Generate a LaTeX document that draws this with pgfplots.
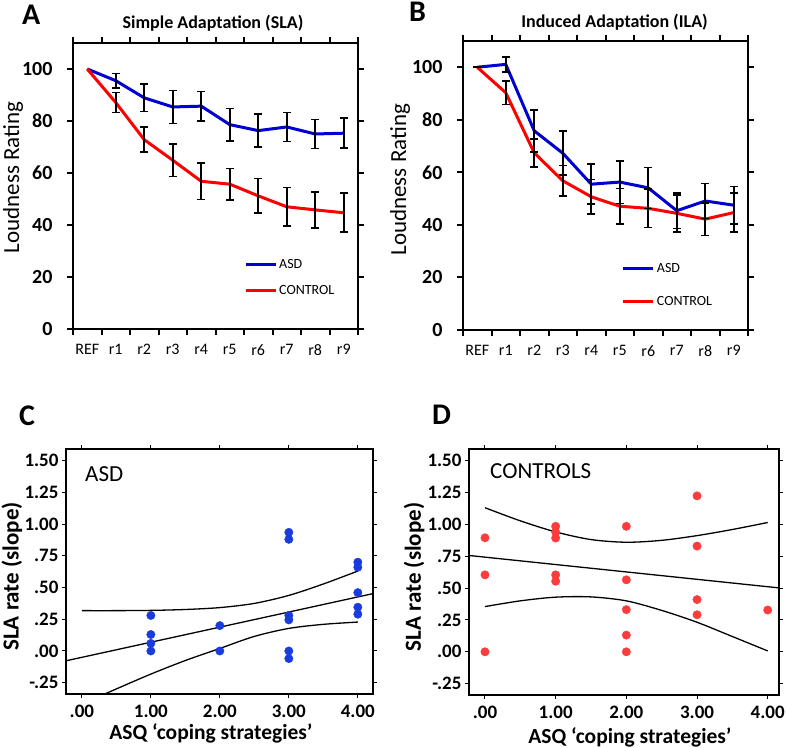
\documentclass[border=0pt]{standalone}
\usepackage{fontspec}
\setmainfont{Carlito}
\usepackage{pgfplots}
\pgfplotsset{compat=1.18}
\definecolor{lblue}{RGB}{0,0,210}
\definecolor{lred}{RGB}{255,0,0}
\definecolor{dblue}{RGB}{25,60,220}
\definecolor{dred}{RGB}{250,60,60}
\newcommand{\fs}[1]{\fontsize{#1bp}{#1bp}\selectfont}
\pgfplotsset{
  topaxis/.style={
    scale only axis, width=285bp,
    xmin=-0.5, xmax=9.5, ymin=0, ymax=110,
    ytick={0,20,...,100},
    xtick={-0.5,0.5,...,9.5},
    xticklabels={REF,r1,r2,r3,r4,r5,r6,r7,r8,r9,{}},
    xticklabel style={font=\fs{16}, xshift=14.25bp, yshift=-6bp},
    yticklabel style={font=\fs{20}\bfseries, xshift=-11bp},
    /pgf/number format/assume math mode=true,
    tick align=outside, major tick length=6bp,
    tick style={black, line width=2bp},
    axis line style={line width=2.8bp},
    ylabel={Loudness Rating},
    ylabel style={font=\fs{23}, anchor=center},
    legend style={draw=none, fill=none, font=\fs{14}, row sep=11bp, anchor=north west, inner sep=0pt, legend cell align=left},
    legend image code/.code={\draw[#1, line width=3bp] (0bp,0bp) -- (30bp,0bp);},
  },
  errs/.style={draw=none, mark=none, forget plot,
    error bars/.cd, y dir=both, y explicit,
    error bar style={draw=black, solid, line width=1.6bp},
    error mark options={draw=black, rotate=90, mark size=4bp, line width=1.6bp}},
  botaxis/.style={
    scale only axis,
    ymin=-0.339, ymax=1.592,
    ytick={-0.25,0,0.25,0.5,0.75,1,1.25,1.5},
    yticklabels={-.25,.00,.25,.50,.75,1.00,1.25,1.50},
    xtick={0,1,2,3,4},
    xticklabels={.00,1.00,2.00,3.00,4.00},
    ticklabel style={font=\fs{19}\bfseries},
    xticklabel style={yshift=-4bp},
    /pgf/number format/assume math mode=true,
    tick align=outside, major tick length=4bp,
    tick style={black, line width=1bp},
    axis line style={line width=1.3bp},
    xlabel={ASQ ‘coping strategies’},
    ylabel={SLA rate (slope)},
    xlabel style={font=\fs{21.5}\bfseries, anchor=center},
    ylabel style={font=\fs{23}\bfseries, anchor=center},
  },
}
\begin{document}
\begin{tikzpicture}[x=1bp,y=1bp]
\useasboundingbox (0,0) rectangle (787,748);
% ---------------- A ----------------
\begin{axis}[topaxis, at={(73bp,419bp)}, anchor=south west, height=286bp,
  ylabel style={at={(axis description cs:-0.2105,0.53)}},
  legend style={at={(axis description cs:0.60,0.25)}}]
\addplot[lblue, line width=3bp, mark=none] coordinates {(0,100) (1,95.5) (2,88.9) (3,85.4) (4,85.7) (5,78.6) (6,76.3) (7,77.7) (8,75.0) (9,75.3)};
\addlegendentry{ASD}
\addplot[lred, line width=3bp, mark=none] coordinates {(0,100) (1,87.1) (2,72.8) (3,64.9) (4,56.8) (5,55.7) (6,51.2) (7,47.0) (8,45.8) (9,44.7)};
\addlegendentry{CONTROL}
\addplot[errs] coordinates {(1,95.5) +- (0,2.8) (2,88.9) +- (0,5.3) (3,85.4) +- (0,6.3) (4,85.7) +- (0,5.6) (5,78.6) +- (0,6.2) (6,76.3) +- (0,6.3) (7,77.7) +- (0,5.6) (8,75.0) +- (0,5.6) (9,75.3) +- (0,5.8)};
\addplot[errs] coordinates {(1,87.1) +- (0,3.8) (2,72.8) +- (0,4.8) (3,64.9) +- (0,6.3) (4,56.8) +- (0,7.0) (5,55.7) +- (0,6.0) (6,51.2) +- (0,6.7) (7,47.0) +- (0,7.4) (8,45.8) +- (0,7.0) (9,44.7) +- (0,7.5)};
\end{axis}
% ---------------- B ----------------
\begin{axis}[topaxis, at={(463bp,418bp)}, anchor=south west, height=289bp,
  ylabel style={at={(axis description cs:-0.221,0.52)}},
  legend style={at={(axis description cs:0.557,0.238)}, row sep=18bp}]
\addplot[lblue, line width=3bp, mark=none] coordinates {(0,100) (1,101.1) (2,75.8) (3,67.3) (4,55.5) (5,56.3) (6,54.1) (7,45.4) (8,49.1) (9,47.5)};
\addlegendentry{ASD}
\addplot[lred, line width=3bp, mark=none] coordinates {(0,100) (1,90.3) (2,67.4) (3,56.8) (4,50.7) (5,47.1) (6,46.3) (7,44.4) (8,42.2) (9,44.7)};
\addlegendentry{CONTROL}
\addplot[errs] coordinates {(0,100) +- (0,0) (1,101.1) +- (0,2.9) (2,75.8) +- (0,8.0) (3,67.3) +- (0,8.4) (4,55.5) +- (0,7.6) (5,56.3) +- (0,8.1) (6,54.1) +- (0,7.8) (7,45.4) +- (0,6.8) (8,49.1) +- (0,6.7) (9,47.5) +- (0,7.1)};
\addplot[errs] coordinates {(1,90.3) +- (0,4.5) (2,67.4) +- (0,5.3) (3,56.8) +- (0,5.8) (4,50.7) +- (0,6.6) (5,47.1) +- (0,6.8) (6,46.3) +- (0,7.3) (7,44.4) +- (0,7.0) (8,42.2) +- (0,6.2) (9,44.7) +- (0,7.4)};
\end{axis}
% ---------------- C ----------------
\begin{axis}[botaxis, at={(66bp,54bp)}, anchor=south west, width=307bp, height=245bp,
  xmin=-0.23, xmax=4.22,
  xlabel style={at={(axis description cs:0.472,-0.159)}},
  ylabel style={at={(axis description cs:-0.176,0.48)}}]
\addplot[only marks, mark=*, mark size=4.2bp, dblue, mark options={draw=dblue, fill=dblue}] coordinates {
(1,0.28)(1,0.13)(1,0.06)(1,0.0)(2,0.20)(2,0.0)(3,0.935)(3,0.88)(3,0.28)(3,0.245)(3,0.0)(3,-0.06)(4,0.70)(4,0.66)(4,0.46)(4,0.345)(4,0.29)};
\addplot[black, line width=1.3bp, mark=none] coordinates {(-0.3,-0.0857) (4.3,0.4617)};
\addplot[black, line width=1.3bp, smooth, mark=none] coordinates {(0,0.318)(0.5,0.318)(1,0.320)(1.5,0.327)(2,0.342)(2.5,0.375)(3,0.438)(3.5,0.528)(4,0.630)};
\addplot[black, line width=1.3bp, smooth, mark=none] coordinates {(0,-0.418)(0.5,-0.299)(1,-0.182)(1.5,-0.075)(2,0.020)(2.5,0.115)(3,0.178)(3.5,0.210)(4,0.228)};
\end{axis}
% ---------------- D ----------------
\begin{axis}[botaxis, at={(469bp,53bp)}, anchor=south west, width=310bp, height=246bp,
  xmin=-0.226, xmax=4.16,
  xlabel style={at={(axis description cs:0.519,-0.171)}},
  ylabel style={at={(axis description cs:-0.177,0.48)}}]
\addplot[only marks, mark=*, mark size=4.2bp, dred, mark options={draw=dred, fill=dred}] coordinates {
(0,0.895)(0,0.604)(0,0.0)(1,0.985)(1,0.94)(1,0.893)(1,0.604)(1,0.554)(2,0.985)(2,0.565)(2,0.331)(2,0.131)(2,0.0)(3,1.224)(3,0.83)(3,0.41)(3,0.291)(4,0.328)};
\addplot[black, line width=1.3bp, mark=none] coordinates {(-0.3,0.7604) (4.3,0.4936)};
\addplot[black, line width=1.3bp, smooth, mark=none] coordinates {(0,1.131)(0.5,1.028)(1,0.941)(1.5,0.881)(2,0.860)(2.5,0.875)(3,0.912)(3.5,0.960)(4,1.015)};
\addplot[black, line width=1.3bp, smooth, mark=none] coordinates {(0,0.355)(0.5,0.400)(1,0.429)(1.5,0.431)(2,0.400)(2.5,0.325)(3,0.232)(3.5,0.120)(4,0.007)};
\end{axis}
% ---------------- texts ----------------
\node[anchor=base west, inner sep=0pt, font=\fs{30}\bfseries] at (22,723) {A};
\node[anchor=base west, inner sep=0pt, font=\fs{30}\bfseries] at (409,726) {B};
\node[anchor=base west, inner sep=0pt, font=\fs{30}\bfseries] at (19,322) {C};
\node[anchor=base west, inner sep=0pt, font=\fs{30}\bfseries] at (432,323) {D};
\node[anchor=base, inner sep=0pt, font=\fs{18}\bfseries] at (213,719.5) {Simple Adaptation (SLA)};
\node[anchor=base, inner sep=0pt, font=\fs{18}\bfseries] at (614.5,720) {Induced Adaptation (ILA)};
\node[anchor=base west, inner sep=0pt, font=\fs{23}] at (85,266) {ASD};
\node[anchor=base west, inner sep=0pt, font=\fs{23}] at (490,269) {CONTROLS};
\end{tikzpicture}
\end{document}
